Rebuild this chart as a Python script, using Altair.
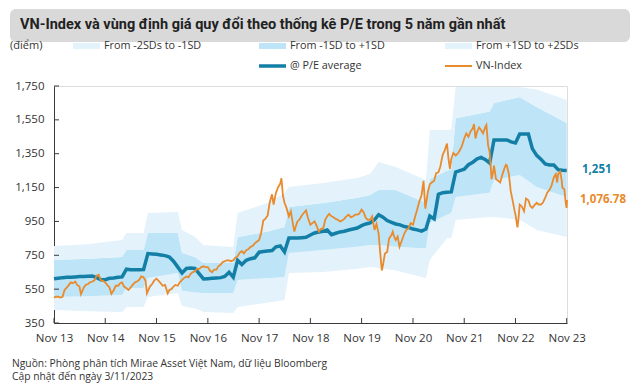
import altair as alt
import pandas as pd

# ---------------- data ----------------
vn_dates = [
    "2013-11-01", "2013-11-15", "2013-12-01", "2013-12-15",
    "2014-01-01", "2014-01-15", "2014-02-01", "2014-02-15", "2014-03-01", "2014-03-15",
    "2014-04-01", "2014-04-15", "2014-05-01", "2014-05-12", "2014-06-01", "2014-06-15",
    "2014-07-01", "2014-07-15", "2014-08-01", "2014-08-15", "2014-09-01", "2014-09-15",
    "2014-10-01", "2014-10-15", "2014-11-01", "2014-11-15", "2014-12-01", "2014-12-15",
    "2015-01-01", "2015-01-15", "2015-02-01", "2015-02-15", "2015-03-01", "2015-03-15",
    "2015-04-01", "2015-04-15", "2015-05-01", "2015-05-15", "2015-06-01", "2015-06-15",
    "2015-07-01", "2015-07-15", "2015-08-01", "2015-08-15", "2015-08-25", "2015-09-15",
    "2015-10-01", "2015-10-15", "2015-11-01", "2015-11-15", "2015-12-01", "2015-12-15",
    "2016-01-01", "2016-01-20", "2016-02-01", "2016-02-15", "2016-03-01", "2016-03-15",
    "2016-04-01", "2016-04-15", "2016-05-01", "2016-05-15", "2016-06-01", "2016-06-15",
    "2016-07-01", "2016-07-15", "2016-08-01", "2016-08-15", "2016-09-01", "2016-09-15",
    "2016-10-01", "2016-10-15", "2016-11-01", "2016-11-15", "2016-12-01", "2016-12-15",
    "2017-01-01", "2017-01-15", "2017-02-01", "2017-02-15", "2017-03-01", "2017-03-15",
    "2017-04-01", "2017-04-15", "2017-05-01", "2017-05-15", "2017-06-01", "2017-06-15",
    "2017-07-01", "2017-07-15", "2017-08-01", "2017-08-15", "2017-09-01", "2017-09-15",
    "2017-10-01", "2017-10-15", "2017-11-01", "2017-11-15", "2017-12-01", "2017-12-15",
    "2018-01-01", "2018-01-15", "2018-02-01", "2018-02-12", "2018-03-01", "2018-03-15",
    "2018-04-01", "2018-04-09", "2018-04-20", "2018-05-01", "2018-05-15", "2018-06-01",
    "2018-06-15", "2018-07-01", "2018-07-10", "2018-07-20", "2018-08-01", "2018-08-15",
    "2018-09-01", "2018-09-15", "2018-10-01", "2018-10-15", "2018-11-01", "2018-11-15",
    "2018-12-01", "2018-12-15",
    "2019-01-01", "2019-01-15", "2019-02-01", "2019-02-15", "2019-03-01", "2019-03-15",
    "2019-04-01", "2019-04-15", "2019-05-01", "2019-05-15", "2019-06-01", "2019-06-15",
    "2019-07-01", "2019-07-15", "2019-08-01", "2019-08-15", "2019-09-01", "2019-09-15",
    "2019-10-01", "2019-10-15", "2019-11-01", "2019-11-15", "2019-12-01", "2019-12-15",
    "2020-01-01", "2020-01-15", "2020-02-01", "2020-02-15", "2020-03-01", "2020-03-12",
    "2020-03-24", "2020-04-01", "2020-04-15", "2020-05-01", "2020-05-15", "2020-06-01",
    "2020-06-10", "2020-06-20", "2020-07-01", "2020-07-15", "2020-07-28", "2020-08-15",
    "2020-09-01", "2020-09-15", "2020-10-01", "2020-10-15", "2020-11-01", "2020-11-15",
    "2020-12-01", "2020-12-15",
    "2021-01-01", "2021-01-15", "2021-01-28", "2021-02-15", "2021-03-01", "2021-03-15",
    "2021-04-01", "2021-04-15", "2021-05-01", "2021-05-15", "2021-06-01", "2021-06-15",
    "2021-07-01", "2021-07-12", "2021-07-22", "2021-08-01", "2021-08-15", "2021-09-01",
    "2021-09-15", "2021-10-01", "2021-10-15", "2021-11-01", "2021-11-15", "2021-12-01",
    "2021-12-15",
    "2022-01-01", "2022-01-10", "2022-01-20", "2022-02-01", "2022-02-15", "2022-03-01",
    "2022-03-15", "2022-04-01", "2022-04-08", "2022-04-20", "2022-05-01", "2022-05-15",
    "2022-05-25", "2022-06-01", "2022-06-15", "2022-07-01", "2022-07-15", "2022-08-01",
    "2022-08-15", "2022-08-25", "2022-09-01", "2022-09-15", "2022-09-28", "2022-10-15",
    "2022-10-25", "2022-11-01", "2022-11-15", "2022-11-22", "2022-12-01", "2022-12-15",
    "2023-01-01", "2023-01-15", "2023-02-01", "2023-02-15", "2023-03-01", "2023-03-15",
    "2023-04-01", "2023-04-15", "2023-05-01", "2023-05-15", "2023-06-01", "2023-06-15",
    "2023-07-01", "2023-07-15", "2023-08-01", "2023-08-15", "2023-08-25", "2023-09-01",
    "2023-09-15", "2023-09-25", "2023-10-01", "2023-10-15", "2023-10-25", "2023-10-31",
    "2023-11-03",
]
vn_values = [
    500, 505, 505, 500,
    505, 545, 560, 575, 590, 585,
    595, 575, 565, 520, 560, 575,
    580, 590, 595, 600, 630, 635,
    600, 600, 590, 575, 560, 522,
    545, 570, 570, 585, 590, 565,
    555, 545, 560, 575, 590, 595,
    605, 625, 620, 600, 525, 565,
    580, 600, 612, 600, 585, 570,
    575, 525, 545, 550, 565, 575,
    570, 590, 605, 615, 625, 620,
    640, 650, 655, 670, 670, 680,
    685, 680, 680, 660, 650, 665,
    665, 685, 695, 710, 715, 720,
    720, 715, 720, 735, 745, 765,
    775, 760, 780, 785, 800, 805,
    820, 830, 840, 880, 955, 965,
    985, 1060, 1110, 1050, 1120, 1150,
    1175, 1205, 1100, 1060, 1030, 980,
    1010, 930, 890, 920, 950, 960,
    985, 1000, 1015, 970, 930, 940,
    950, 925,
    890, 905, 910, 960, 980, 995,
    980, 975, 965, 960, 950, 955,
    965, 980, 990, 975, 980, 990,
    990, 995, 1020, 1005, 970, 960,
    960, 980, 900, 935, 880, 770,
    660, 690, 760, 770, 850, 870,
    890, 860, 840, 860, 800, 840,
    880, 900, 910, 940, 930, 975,
    1020, 1065,
    1105, 1190, 1025, 1125, 1170, 1180,
    1190, 1235, 1240, 1275, 1345, 1370,
    1410, 1320, 1260, 1320, 1355, 1340,
    1350, 1370, 1395, 1440, 1470, 1450,
    1480,
    1500, 1525, 1440, 1480, 1505, 1490,
    1470, 1510, 1520, 1400, 1360, 1200,
    1240, 1280, 1200, 1190, 1180, 1230,
    1265, 1285, 1280, 1230, 1130, 1060,
    1015, 990, 915, 960, 1050, 1040,
    1010, 1085, 1075, 1040, 1030, 1045,
    1060, 1050, 1050, 1060, 1090, 1120,
    1135, 1160, 1210, 1230, 1180, 1230,
    1245, 1200, 1150, 1140, 1060, 1030,
    1076.78,
]

# VN-Index at average P/E, monthly from Nov 2013 to Nov 2023
pe_avg = [
    612, 615, 618, 620, 620, 622, 624, 624, 626, 627, 618, 606, 606,
    614, 616, 620, 622, 668, 664, 664, 665, 666,
    760, 758, 756, 752, 748, 740, 715, 680, 645,
    672, 675, 672, 640, 610, 612, 614, 616, 618, 625, 650,
    620, 720, 695, 720, 730, 735, 768, 772, 775, 778, 800, 805, 770,
    852, 852, 852, 854, 856, 870, 882, 888, 892, 899,
    872, 880, 888, 892, 899, 905, 911, 925, 935, 941, 960,
    990, 975, 955, 945, 935, 930, 920, 915, 905, 900, 893, 905,
    982, 965, 1110, 1120, 1122, 1124,
    1242, 1250, 1258, 1285, 1300, 1320, 1328, 1315, 1295,
    1431, 1431, 1431, 1431, 1420, 1413, 1466, 1466, 1466,
    1380, 1340, 1318, 1290, 1283, 1283, 1256, 1252, 1251,
]

# standard-deviation bands (months after Nov 2013)
band_months = [0, 8, 16, 17, 21, 22, 29, 30, 33, 35, 42, 43, 50, 54, 55, 63, 71, 74,
               76, 80, 87, 88, 92, 93, 94, 102, 103, 109, 113, 120]
band_lo2 = [427, 420, 415, 445, 445, 504, 527, 450, 435, 415, 409, 445, 470, 486, 645,
            651, 670, 681, 675, 660, 616, 722, 850, 850, 958, 976, 976, 960, 900, 858]
band_lo1 = [504, 508, 515, 557, 557, 616, 645, 540, 530, 527, 527, 604, 615, 622, 763,
            781, 800, 811, 811, 800, 790, 941, 990, 1000, 1094, 1120, 1195, 1224, 1153, 1094]
band_hi1 = [722, 730, 740, 781, 781, 882, 882, 763, 740, 704, 704, 858, 890, 917, 1035,
            1059, 1090, 1106, 1136, 1136, 1060, 1200, 1250, 1260, 1560, 1600, 1650, 1685, 1626, 1531]
band_hi2 = [805, 815, 840, 882, 882, 1000, 1006, 900, 860, 810, 799, 1000, 1060, 1118, 1153,
            1177, 1206, 1230, 1301, 1271, 1195, 1490, 1490, 1495, 1744, 1744, 1744, 1744, 1730, 1667]

y_ticks = [350, 550, 750, 950, 1150, 1350, 1550, 1750]
x_tick_years = list(range(2013, 2024))

legend_bands = ["From -2SDs to -1SD", "From -1SD to +1SD", "From +1SD to +2SDs"]
legend_lines = ["@ P/E average", "VN-Index"]

title_text = "VN-Index và vùng định giá quy đổi theo thống kê P/E  trong 5 năm gần nhất"
unit_text = "(điểm)"
source_text = "Nguồn: Phòng phân tích Mirae Asset Việt Nam, dữ liệu Bloomberg"
update_text = "Cập nhật đến ngày 3/11/2023"

# ---------------- styling ----------------
FONT = "Open Sans"
TITLE_FONT = "Roboto"
TEAL = "#137FA7"
ORANGE = "#E98A2C"
MID = "#BEE5F7"
LIGHT = "#E4F2FB"
TXT = "#333333"
W, H = 513, 237

start = pd.Timestamp("2013-11-01")
pe_dates = [(start + pd.DateOffset(months=i)).strftime("%Y-%m-%d") for i in range(len(pe_avg))]
band_dates = [(start + pd.DateOffset(months=m)).strftime("%Y-%m-%d") for m in band_months]

vn_df = pd.DataFrame({"date": vn_dates, "value": vn_values})
pe_df = pd.DataFrame({"date": pe_dates, "value": pe_avg})
band_df = pd.DataFrame({"date": band_dates, "lo2": band_lo2, "lo1": band_lo1,
                        "hi1": band_hi1, "hi2": band_hi2})

x_dom = [alt.DateTime(year=2013, month=11, date=1, utc=True),
         alt.DateTime(year=2023, month=11, date=3, utc=True)]
x_vals = [alt.DateTime(year=y, month=11, date=1, utc=True) for y in x_tick_years]

XSCALE = alt.Scale(type="utc", domain=x_dom, nice=False)
XAXIS = alt.Axis(values=x_vals, format="%b %y", title=None, grid=False,
                 ticks=False, tickSize=0, labelPadding=9, labelFontSize=11.5,
                 labelColor=TXT, labelFont=FONT, domainColor="#3a3a3a",
                 labelOverlap=False, labelFlush=False)
YSCALE = alt.Scale(domain=[350, 1750], nice=False, zero=False)
YAXIS = alt.Axis(values=y_ticks, labelExpr="format(datum.value, ',')",
                 title=None, grid=False, ticks=False, tickSize=0,
                 labelPadding=10, labelFontSize=11.5, labelColor=TXT,
                 labelFont=FONT, domainColor="#3a3a3a", labelOverlap=False,
                 labelFlush=False)


def xq():
    return alt.X("date:T", scale=XSCALE, axis=XAXIS, title=None)


def yq(field):
    return alt.Y(field, scale=YSCALE, axis=YAXIS, title=None)


band_low = alt.Chart(band_df).mark_area(color=LIGHT).encode(
    x=xq(), y=yq("lo2:Q"), y2="lo1:Q")
band_mid = alt.Chart(band_df).mark_area(color=MID).encode(
    x=xq(), y=yq("lo1:Q"), y2="hi1:Q")
band_high = alt.Chart(band_df).mark_area(color=LIGHT).encode(
    x=xq(), y=yq("hi1:Q"), y2="hi2:Q")

pe_line = alt.Chart(pe_df).mark_line(color=TEAL, strokeWidth=3.5).encode(
    x=xq(), y=yq("value:Q"))
vn_line = alt.Chart(vn_df).mark_line(color=ORANGE, strokeWidth=1.8).encode(
    x=xq(), y=yq("value:Q"))

# inward tick marks
ytick_df = pd.DataFrame({"v": y_ticks})
ytick_rules = alt.Chart(ytick_df).mark_rule(color="#3a3a3a").encode(
    y=yq("v:Q"), x=alt.value(0), x2=alt.value(5))
xtick_df = pd.DataFrame({"date": [f"{y}-11-01" for y in x_tick_years]})
xtick_rules = alt.Chart(xtick_df).mark_rule(color="#3a3a3a").encode(
    x=xq(), y=alt.value(H), y2=alt.value(H - 5))

# end-value labels
end_pe_df = pd.DataFrame({"date": ["2023-11-03"], "value": [pe_avg[-1]],
                          "label": [f"{pe_avg[-1]:,}"]})
end_vn_df = pd.DataFrame({"date": ["2023-11-03"], "value": [vn_values[-1]],
                          "label": [f"{vn_values[-1]:,.2f}"]})
end_pe = alt.Chart(end_pe_df).mark_text(
    align="left", baseline="middle", dx=15, font=FONT, fontSize=11.5,
    fontWeight="bold", color=TEAL).encode(x=xq(), y=yq("value:Q"), text="label:N")
end_vn = alt.Chart(end_vn_df).mark_text(
    align="left", baseline="middle", dx=13, font=FONT, fontSize=11.5,
    fontWeight="bold", color=ORANGE).encode(x=xq(), y=yq("value:Q"), text="label:N")

one = alt.Data(values=[{}])


def txt(s, x, y, size=11, weight="normal", color=TXT, font=FONT):
    return alt.Chart(one).mark_text(text=s, align="left", baseline="middle", font=font,
                                    fontSize=size, fontWeight=weight, color=color).encode(
        x=alt.value(x), y=alt.value(y))


def box(x1, x2, y1, y2, color, radius=0):
    return alt.Chart(one).mark_rect(color=color, cornerRadius=radius).encode(
        x=alt.value(x1), x2=alt.value(x2), y=alt.value(y1), y2=alt.value(y2))


def seg(x1, x2, y, color, width):
    return alt.Chart(one).mark_rule(color=color, strokeWidth=width).encode(
        x=alt.value(x1), x2=alt.value(x2), y=alt.value(y))


title_box = box(-44, 576, -77, -44, "#D9D9D9", 6)
title = txt(title_text, -34, -61, 14.5, "bold", "#222222", TITLE_FONT)
unit = txt(unit_text, -44, -40, 11)

leg_x = [19, 205, 391]
leg_colors = [LIGHT, MID, LIGHT]
legend_layers = []
for lx, lab, col in zip(leg_x, legend_bands, leg_colors):
    legend_layers.append(box(lx, lx + 27, -43, -37, col))
    legend_layers.append(txt(lab, lx + 31, -40, 10.8))
for lx, lab, col, wd in zip(leg_x[1:], legend_lines, [TEAL, ORANGE], [3.5, 2]):
    legend_layers.append(seg(lx, lx + 27, -20, col, wd))
    legend_layers.append(txt(lab, lx + 31, -20, 10.8))

src = txt(source_text, -42, 278, 10.3)
upd = txt(update_text, -42, 291, 10.3)

chart = alt.layer(
    band_low, band_mid, band_high, pe_line, vn_line, ytick_rules, xtick_rules,
    end_pe, end_vn, title_box, title, unit, *legend_layers, src, upd
).properties(
    width=W, height=H,
    autosize=alt.AutoSizeParams(type="none"),
    padding={"left": 46, "top": 78, "right": 65, "bottom": 60},
).configure_view(stroke=None).configure(background="white")

chart.save("out.html", embed_options={"renderer": "svg", "actions": False})
